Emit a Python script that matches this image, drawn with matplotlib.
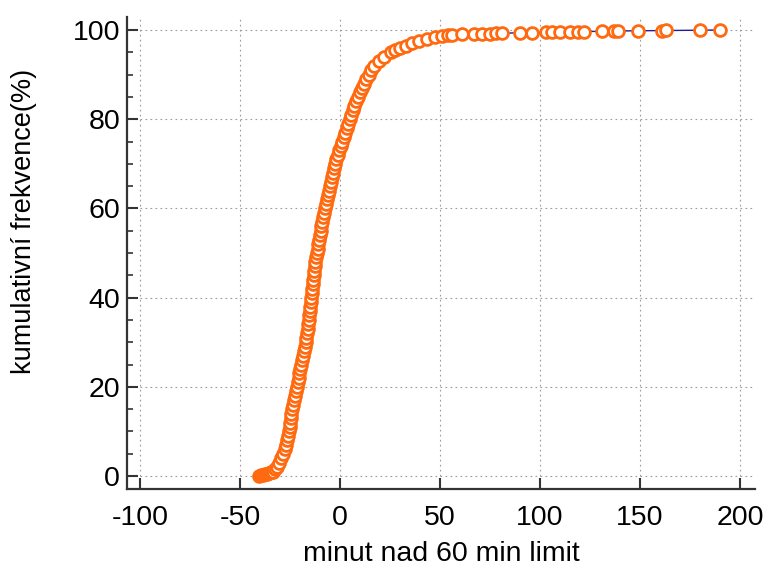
import matplotlib
matplotlib.use("Agg")
import matplotlib.pyplot as plt
from matplotlib.ticker import MultipleLocator

plt.rcParams['font.family'] = ['Liberation Sans', 'DejaVu Sans']
plt.rcParams['axes.unicode_minus'] = False

# cumulative frequency (%)
cum_pct = [0.1, 0.2, 0.3, 0.4, 0.5, 0.6, 0.8, 1.0, 1.5, 2, 3, 4, 5, 6, 7, 8, 9, 10,
           11, 12, 13, 14, 15, 16, 17, 18, 19, 20, 21, 22, 23, 24, 25, 26, 27, 28, 29, 30,
           31, 32, 33, 34, 35, 36, 37, 38, 39, 40, 41, 42, 43, 44, 45, 46, 47, 48, 49, 50,
           51, 52, 53, 54, 55, 56, 57, 58, 59, 60, 61, 62, 63, 64, 65, 66, 67, 68, 69, 70,
           71, 72, 73, 74, 75, 76, 77, 78, 79, 80, 81, 82, 83, 84, 85, 86, 87, 88, 89, 90,
           91, 92, 93, 94, 95, 95.5, 96, 96.5, 97, 97.5, 98, 98.4, 98.6, 98.8,
           98.9, 99.0, 99.1, 99.15, 99.2, 99.25, 99.3, 99.35, 99.4, 99.45, 99.5, 99.55,
           99.6, 99.62, 99.65, 99.7, 99.75, 99.78, 99.82, 99.87, 99.9, 99.95, 100.0]

minutes_over = [-40.5, -39.5, -38.5, -37.5, -36.5, -35.5, -34.5, -33.5, -32.3, -31.4, -30.5,
                -29.5, -28.6, -27.6, -27.0, -26.5, -26.0, -25.5,
                -25.2, -24.9, -24.6, -24.3, -23.9, -23.5, -23.1, -22.6, -22.0, -21.5,
                -21.0, -20.6, -20.3, -19.9, -19.5, -19.0, -18.4, -17.9, -17.5, -17.1,
                -16.8, -16.5, -16.2, -15.9, -15.6, -15.3, -15.0, -14.8, -14.5, -14.3,
                -14.0, -13.8, -13.5, -13.3, -13.0, -12.8, -12.6, -12.3, -11.9, -11.6,
                -11.2, -10.9, -10.5, -10.1, -9.7, -9.3, -8.8, -8.4, -8.0, -7.5,
                -7.0, -6.5, -6.1, -5.6, -5.1, -4.6, -4.1, -3.6, -3.1, -2.5,
                -1.8, -1.1, -0.4, 0.4, 1.2, 2.0, 2.7, 3.4, 4.1, 4.8,
                5.6, 6.3, 7.1, 8.0, 8.9, 9.8, 10.8, 11.9, 13.0, 14.3,
                15.6, 17.2, 19.3, 22.0, 25.3, 27.5, 30.0, 32.8, 36.0, 39.5, 43.5, 47.7, 51.0, 54.0,
                56, 61, 67, 71, 75, 78, 81, 90, 96, 103, 106, 110,
                115, 119, 122, 131, 137, 139, 149, 161, 163, 180, 190]

x_ticks = [-100, -50, 0, 50, 100, 150, 200]
y_ticks = [0, 20, 40, 60, 80, 100]
x_label = "minut nad 60 min limit"
y_label = "kumulativní frekvence(%)"

fig = plt.figure(figsize=(7.7, 5.71), dpi=100)
ax = fig.add_axes([0.1649, 0.1429, 0.8156, 0.828])
ax.set_xlim(-106.5, 207.5)
ax.set_ylim(-3, 103)

grid_kw = dict(color='#9a9a9a', linestyle=(0, (1.5, 3)), linewidth=0.8, zorder=0)
ax.hlines(y_ticks, -100, 207.5, **grid_kw)
ax.vlines(x_ticks, 0, 103, **grid_kw)

ax.plot(minutes_over, cum_pct, color='#1f1f9a', linewidth=1.0,
        marker='o', markersize=8.5, markerfacecolor='white',
        markeredgecolor='#ff6a10', markeredgewidth=2.0, zorder=3)

for s in ['top', 'right']:
    ax.spines[s].set_visible(False)
for s in ['left', 'bottom']:
    ax.spines[s].set_color('#333333')
    ax.spines[s].set_linewidth(1.6)

ax.set_xticks(x_ticks)
ax.set_yticks(y_ticks)
ax.yaxis.set_minor_locator(MultipleLocator(5))
ax.tick_params(axis='both', which='major', direction='in', length=8, width=1.5,
               color='#333333', labelsize=20.5)
ax.tick_params(axis='x', which='major', pad=11)
ax.tick_params(axis='y', which='major', pad=5)
ax.tick_params(axis='y', which='minor', direction='in', length=4.5, width=1.2, color='#333333')

ax.set_xlabel(x_label, fontsize=20.5)
ax.set_ylabel(y_label, fontsize=19.5)
ax.xaxis.set_label_coords(0.5, -0.11)
ax.yaxis.set_label_coords(-0.143, 0.566)

fig.savefig("out.png", dpi=100)
